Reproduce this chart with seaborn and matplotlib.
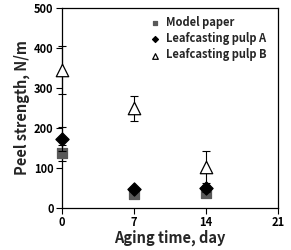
import matplotlib
matplotlib.use("Agg")
import matplotlib.pyplot as plt
import seaborn as sns
import pandas as pd

days = [0, 7, 14]
model_paper = [137, 34, 38]
model_err = [20, 6, 6]
pulp_a = [172, 47, 49]
pulp_a_err = [30, 5, 8]
pulp_b = [345, 249, 103]
pulp_b_err = [60, 32, 40]
series_names = ["Model paper", "Leafcasting pulp A", "Leafcasting pulp B"]
x_ticks = [0, 7, 14, 21]
y_ticks = [0, 100, 200, 300, 400, 500]

sns.set_style("ticks")
plt.rcParams['font.family'] = ['Noto Sans CJK KR', 'DejaVu Sans']
plt.rcParams['font.weight'] = 'bold'

fig = plt.figure(figsize=(2.91, 2.5), dpi=100)
ax = fig.add_axes([0.213, 0.168, 0.742, 0.8])

rows = []
for name, vals in zip(series_names, [model_paper, pulp_a, pulp_b]):
    for d, v in zip(days, vals):
        rows.append({"day": d, "value": v, "series": name})
df = pd.DataFrame(rows)

styles = {
    "Model paper": dict(marker="s", face="#595959", edge="#595959", size=60),
    "Leafcasting pulp A": dict(marker="D", face="black", edge="black", size=45),
    "Leafcasting pulp B": dict(marker="^", face="white", edge="black", size=80),
}
errs = {"Model paper": model_err, "Leafcasting pulp A": pulp_a_err, "Leafcasting pulp B": pulp_b_err}

for i, name in enumerate(series_names):
    sub = df[df.series == name]
    st = styles[name]
    eb = ax.errorbar(sub["day"], sub["value"], yerr=errs[name], fmt="none", ecolor="black",
                     elinewidth=0.8, capsize=3, capthick=0.8, zorder=2 + i * 2)
    for art in eb.lines[1] + eb.lines[2]:
        art.set_clip_on(False)
    n_before = len(ax.collections)
    sns.scatterplot(data=sub, x="day", y="value", marker=st["marker"], color=st["face"],
                    edgecolor=st["edge"], linewidth=0.9, s=st["size"], ax=ax,
                    label=name, zorder=3 + i * 2, legend=True)
    for c in ax.collections[n_before:]:
        c.set_clip_on(False)

ax.set_xlim(0, 21)
ax.set_ylim(0, 500)
ax.set_xticks(x_ticks)
ax.set_yticks(y_ticks)
for s in ax.spines.values():
    s.set_visible(True)
    s.set_color("black")
    s.set_linewidth(0.9)
    s.set_zorder(1)
ax.tick_params(direction="out", length=4, width=0.8, labelsize=8, pad=2, colors="black")
for lab in ax.get_xticklabels() + ax.get_yticklabels():
    lab.set_fontweight("bold")
ax.set_xlabel("Aging time, day", fontsize=10.5, fontweight="bold", labelpad=0)
ax.set_ylabel("Peel strength, N/m", fontsize=10.5, fontweight="bold", labelpad=3)

leg = ax.legend(loc="upper right", frameon=False, fontsize=8, handletextpad=0.0,
                borderaxespad=0.3, labelspacing=0.3, markerscale=0.45,
                bbox_to_anchor=(0.985, 1.0))
for t in leg.get_texts():
    t.set_fontweight("bold")

fig.savefig("out.png", dpi=100)
